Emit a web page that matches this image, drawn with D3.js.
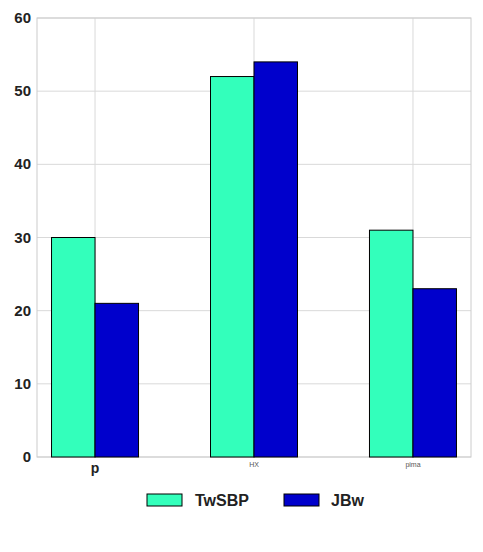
<!DOCTYPE html><html><head><script src="https://cdn.jsdelivr.net/npm/d3@7"></script>
<style>body{margin:0;background:#fff}</style></head><body><svg id="c" width="483" height="552"></svg>
<script>
const categories=["p","HX","pima"];
const seriesNames=["TwSBP","JBw"];
const twsbp=[30,52,31];
const jbw=[21,54,23];
const colors=["#33ffbb","#0000cc"];
const yTicks=[0,10,20,30,40,50,60];
const svg=d3.select("#c");
const L=37,R=471,T=18,B=457;
const x=d3.scalePoint().domain(categories).range([L,R]).padding(0.365);
const y=d3.scaleLinear().domain([0,60]).range([B,T]);
const g=svg.append("g");
yTicks.forEach(t=>g.append("line").attr("x1",L).attr("x2",R).attr("y1",y(t)).attr("y2",y(t)).attr("stroke","#d9d9d9"));
categories.forEach(c=>g.append("line").attr("x1",x(c)).attr("x2",x(c)).attr("y1",T).attr("y2",B).attr("stroke","#d9d9d9"));
g.append("rect").attr("x",L).attr("y",T).attr("width",R-L).attr("height",B-T).attr("fill","none").attr("stroke","#ccc");
const bw=43.5;
[twsbp,jbw].forEach((s,i)=>{
 g.selectAll(null).data(categories).enter().append("rect")
  .attr("x",c=>x(c)+(i-1)*bw).attr("width",bw)
  .attr("y",(c,j)=>y(s[j])).attr("height",(c,j)=>y(0)-y(s[j]))
  .attr("fill",colors[i]).attr("stroke","#000").attr("stroke-width",1);
});
yTicks.forEach(t=>g.append("text").attr("x",L-6).attr("y",y(t)+5).attr("text-anchor","end")
 .attr("font-family","Liberation Sans, Arial").attr("font-weight","bold").attr("font-size",15).attr("fill","#222").text(t));
const xs=[{s:14,w:"bold",c:"#222",dy:16},{s:7,w:"normal",c:"#555",dy:10},{s:7,w:"normal",c:"#555",dy:10}];
categories.forEach((c,i)=>g.append("text").attr("x",x(c)).attr("y",B+xs[i].dy).attr("text-anchor","middle")
 .attr("font-family","Liberation Sans, Arial").attr("font-weight",xs[i].w).attr("font-size",xs[i].s).attr("fill",xs[i].c).text(c));
const lg=[{x:147,tx:195},{x:284,tx:331}];
seriesNames.forEach((n,i)=>{
 g.append("rect").attr("x",lg[i].x).attr("y",494).attr("width",35).attr("height",12).attr("fill",colors[i]).attr("stroke","#000");
 g.append("text").attr("x",lg[i].tx).attr("y",506).attr("font-family","Liberation Sans, Arial").attr("font-weight","bold")
  .attr("font-size",16).attr("fill","#222").text(n);
});
</script></body></html>
